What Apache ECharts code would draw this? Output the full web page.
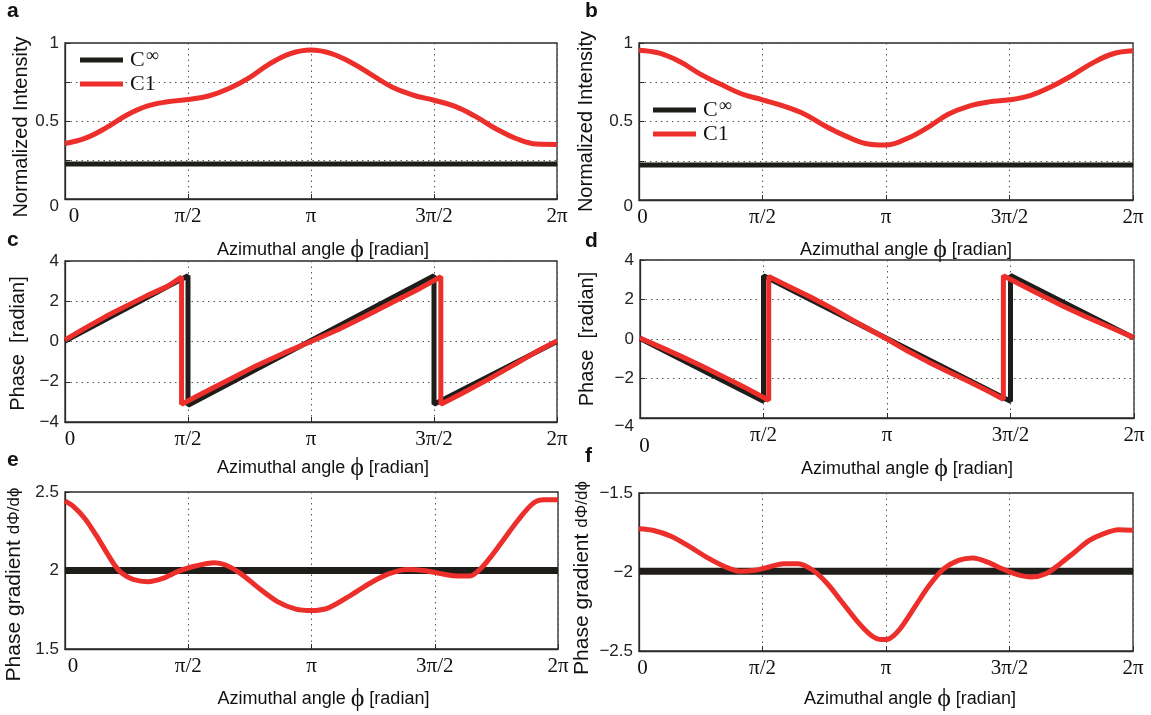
<!DOCTYPE html>
<html><head><meta charset="utf-8">
<script src="https://cdn.jsdelivr.net/npm/echarts@6/dist/echarts.min.js"></script>
<style>html,body{margin:0;padding:0;background:#fff}#c{width:1151px;height:715px}</style>
</head><body><div id="c"></div>
<script>
// ---------- data ----------
const angleTickLabels = {0:'0', 90:'π/2', 180:'π', 270:'3π/2', 360:'2π'};
const seriesNames = ['C∞', 'C1'];

// panels a / b : normalized intensity
const angI = [0,15,30,45,60,75,90,105,120,135,150,165,180,195,210,225,240,255,270,285,300,315,330,345,360];
const intensityC1_a = [0.356,0.39,0.456,0.537,0.595,0.623,0.638,0.66,0.708,0.778,0.868,0.932,0.955,0.932,0.872,0.793,0.714,0.665,0.633,0.595,0.531,0.452,0.388,0.352,0.35];
const intensityC1_b = [0.954,0.935,0.88,0.80,0.735,0.675,0.638,0.60,0.55,0.475,0.41,0.36,0.35,0.39,0.46,0.545,0.597,0.625,0.638,0.665,0.72,0.79,0.87,0.93,0.95];
const angCinf = [0, 360];
const intensityCinf_a = [0.224, 0.224];
const intensityCinf_b = [0.223, 0.223];

// panel c : phase
const angPhaseInf_c = [0, 90, 90, 270, 270, 360];
const phaseInf_c = [0.02, 3.27, -3.17, 3.27, -3.12, 0.0];
const angPhase1_c = [0,15,30,45,60,75,85.3,85.3,100,120,140,160,180,200,220,240,260,275,275,290,310,330,345,360];
const phase1_c = [0.08,0.68,1.25,1.77,2.28,2.74,3.2,-3.12,-2.6,-1.9,-1.2,-0.58,0.0,0.6,1.27,1.96,2.65,3.22,-3.12,-2.6,-1.87,-1.1,-0.5,0.03];

// panel d : phase
const angPhaseInf_d = [0, 90, 90, 270, 270, 360];
const phaseInf_d = [0.03, -3.15, 3.2, -3.15, 3.22, 0.05];
const angPhase1_d = [0,15,30,45,60,75,93.8,93.8,110,125,140,155,170,180,195,210,225,240,255,264.8,264.8,280,295,310,325,340,360];
const phase1_d = [0.05,-0.41,-0.88,-1.37,-1.88,-2.40,-3.1,3.16,2.61,2.10,1.55,0.95,0.38,0.0,-0.61,-1.16,-1.67,-2.17,-2.68,-3.05,3.2,2.66,2.13,1.61,1.13,0.67,0.07];

// panel e : phase gradient
const angGrad_e = [0,6.5,14.6,22.7,30.8,36.2,41.6,49.7,60.5,71.4,82.2,93,103.8,109.2,117.3,128.1,141.6,155.1,168.6,180,192.9,209.2,222.7,236.2,249.7,263.2,276.8,287.6,295.7,303.8,311.9,320,330.8,341.6,349.7,360];
const grad1_e = [2.443,2.405,2.33,2.225,2.109,2.035,1.982,1.944,1.929,1.95,1.993,2.024,2.045,2.05,2.035,1.982,1.887,1.802,1.754,1.745,1.764,1.845,1.919,1.978,2.007,1.999,1.976,1.965,1.965,2.014,2.098,2.193,2.32,2.426,2.45,2.45];
const gradInf_e = [2.0, 2.0];

// panel f : phase gradient
const angGrad_f = [0,10,23.3,36.6,49.8,63.1,73.7,84.3,94.9,105.5,116.1,126.7,137.3,147.9,158.5,169.1,177.1,182.4,190.3,201,211.6,222.2,232.8,243.4,254,264.6,275.2,285.8,296.4,307,317.6,328.2,338.8,349.4,360];
const grad1_f = [-1.726,-1.736,-1.774,-1.838,-1.909,-1.968,-1.996,-1.989,-1.968,-1.947,-1.947,-1.989,-2.074,-2.19,-2.306,-2.40,-2.428,-2.422,-2.359,-2.221,-2.084,-1.979,-1.926,-1.911,-1.937,-1.979,-2.015,-2.032,-2.011,-1.947,-1.873,-1.80,-1.757,-1.732,-1.736];
const gradInf_f = [-1.995, -1.995];

// ---------- helpers ----------
const zip = (xs, ys) => xs.map((x, i) => [x, ys[i]]);
const RED = '#ec2f2a', BLK = '#1f1d1a';
const SANS = '"Liberation Sans", Arial, sans-serif';
const SERIF = '"Liberation Serif", "Times New Roman", serif';
const fmtNum = v => (v < 0 ? '\u2212' + String(Math.abs(v)) : String(v));

const grids = [
  {left:65,  top:43,  width:492, height:156},
  {left:639, top:43,  width:494, height:157},
  {left:65,  top:261, width:492, height:161},
  {left:640, top:260, width:494, height:158},
  {left:65,  top:492, width:493, height:157},
  {left:639, top:493, width:494, height:158}
].map(g => Object.assign({show:true, borderColor:'#2a2a2a', borderWidth:1.3, backgroundColor:'transparent', containLabel:false, outerBoundsMode:'none'}, g));

const zeroPad = [[0,0,0,18],[0,0,0,7],[0,0,0,10],[11,0,0,9],[0,0,0,16],[0,0,0,7]];
const xNamePad = [[0,0,0,24],[0,0,0,40],[0,0,0,24],[0,0,0,40],[0,0,0,24],[0,0,0,48]];
const xNameGap = [41, 40, 36, 41, 40, 38];

const xAxes = grids.map((g, i) => ({
  type:'value', gridIndex:i, min:0, max:360, interval:90,
  axisLine:{show:true, onZero:false, lineStyle:{color:'#2a2a2a', width:1.3}},
  axisTick:{show:true, inside:true, length:5, lineStyle:{color:'#2a2a2a'}},
  splitLine:{show:true, lineStyle:{color:'#555', type:[1.5,4], width:1}},
  axisLabel:{
    fontFamily:SERIF, fontSize:21, color:'#111', margin:7,
    formatter: v => v === 0 ? '{z|0}' : (angleTickLabels[v] || ''),
    rich:{z:{fontFamily:SERIF, fontSize:21, color:'#111', padding:zeroPad[i]}}
  },
  name:'Azimuthal angle {p|\u03D5} [radian]', nameLocation:'middle', nameGap:xNameGap[i],
  nameMoveOverlap:false,
  nameTextStyle:{fontFamily:SANS, fontSize:18, color:'#111', lineHeight:20, padding:xNamePad[i],
    rich:{p:{fontFamily:SERIF, fontSize:26, color:'#111', lineHeight:20}}}
}));

const yDefs = [
  {min:0, max:1, interval:0.25, name:'Normalized Intensity', gap:34, split:true, fs:20, npad:[0,12,0,0],
   fmt: v => v === 0 ? '{z|0}' : (v === 0.5 ? '0.5' : (v === 1 ? '1' : '')), zpad:[14,0,0,0]},
  {min:0, max:1, interval:0.25, name:'Normalized Intensity', gap:43, split:true, fs:20, npad:[0,0,0,0],
   fmt: v => v === 0 ? '{z|0}' : (v === 0.5 ? '0.5' : (v === 1 ? '1' : '')), zpad:[12,0,0,0]},
  {min:-4, max:4, interval:2, name:'Phase  [radian]', gap:37, split:true, fs:20, npad:[0,4,0,0], fmt: v => fmtNum(v)},
  {min:-4, max:4, interval:2, name:'Phase  [radian]', gap:43, split:true, fs:20, npad:[0,0,0,0],
   fmt: v => v === -4 ? '{z|\u22124}' : fmtNum(v), zpad:[16,0,0,0]},
  {min:1.5, max:2.5, interval:0.5, name:'Phase gradient {s|d\u03A6/d\u03D5}', gap:40, split:false, fs:21, npad:[0,28,0,0], fmt: v => fmtNum(v)},
  {min:-2.5, max:-1.5, interval:0.5, name:'Phase gradient {s|d\u03A6/d\u03D5}', gap:46, split:false, fs:21, npad:[0,12,0,0], fmt: v => fmtNum(v)}
];

const yAxes = yDefs.map((d, i) => ({
  type:'value', gridIndex:i, min:d.min, max:d.max, interval:d.interval,
  axisLine:{show:true, onZero:false, lineStyle:{color:'#2a2a2a', width:1.3}},
  axisTick:{show:true, inside:true, length:5, lineStyle:{color:'#2a2a2a'}},
  splitLine:{show:d.split, lineStyle:{color:'#555', type:[1.5,4], width:1}},
  axisLabel:{fontFamily:SANS, fontSize:17, color:'#222', margin:6, formatter:d.fmt,
    rich:{z:{fontFamily:SANS, fontSize:17, color:'#222', padding:d.zpad || [0,0,0,0]}}},
  name:d.name, nameLocation:'middle', nameGap:d.gap, nameRotate:90, nameMoveOverlap:false,
  nameTextStyle:{fontFamily:SANS, fontSize:d.fs, color:'#111', padding:d.npad,
    rich:{s:{fontFamily:SANS, fontSize:17, color:'#111'}}}
}));

function line(name, idx, data, color, width, smooth) {
  return {name, type:'line', xAxisIndex:idx, yAxisIndex:idx, data, showSymbol:false, symbol:'none',
    smooth: smooth || false, lineStyle:{color, width}, itemStyle:{color}, z: color === RED ? 4 : 3,
    emphasis:{disabled:true}, animation:false};
}

const series = [
  line(seriesNames[0], 0, zip(angCinf, intensityCinf_a), BLK, 5),
  line(seriesNames[1], 0, zip(angI, intensityC1_a), RED, 5, 0.4),
  line(seriesNames[0], 1, zip(angCinf, intensityCinf_b), BLK, 5),
  line(seriesNames[1], 1, zip(angI, intensityC1_b), RED, 5, 0.4),
  line(seriesNames[0], 2, zip(angPhaseInf_c, phaseInf_c), BLK, 5),
  line(seriesNames[1], 2, zip(angPhase1_c, phase1_c), RED, 5),
  line(seriesNames[0], 3, zip(angPhaseInf_d, phaseInf_d), BLK, 5),
  line(seriesNames[1], 3, zip(angPhase1_d, phase1_d), RED, 5),
  line(seriesNames[0], 4, zip(angCinf, gradInf_e), BLK, 7),
  line(seriesNames[1], 4, zip(angGrad_e, grad1_e), RED, 5, 0.3),
  line(seriesNames[0], 5, zip(angCinf, gradInf_f), BLK, 7),
  line(seriesNames[1], 5, zip(angGrad_f, grad1_f), RED, 5, 0.3)
];

const legendBase = {
  orient:'vertical', icon:'rect', itemWidth:43, itemHeight:5, itemGap:0, selectedMode:false, padding:0,
  data: seriesNames,
  formatter: n => n === 'C∞' ? '{c|C}{s|\u221E}' : '{c|C1}',
  textStyle:{padding:[0,0,0,2], rich:{
    c:{fontFamily:SERIF, fontSize:22, color:'#111', lineHeight:24},
    s:{fontFamily:SERIF, fontSize:18, color:'#111', lineHeight:24, padding:[0,0,8,1]}}}
};

const letters = [['a',7,11],['b',585,11],['c',7,240],['d',585,241],['e',7,460],['f',585,456]];

const option = {
  backgroundColor:'#fff',
  animation:false,
  grid: grids,
  xAxis: xAxes,
  yAxis: yAxes,
  series,
  legend:[
    Object.assign({left:80, top:47}, legendBase),
    Object.assign({left:653, top:97}, legendBase)
  ],
  graphic: letters.map(([t, x, y]) => ({type:'text', x, y,
    style:{text:t, font:'bold 21px "Liberation Sans", Arial, sans-serif', fill:'#111', verticalAlign:'middle'}}))
};

const chart = echarts.init(document.getElementById('c'), null, {renderer:'canvas'});
chart.setOption(option);
</script></body></html>
